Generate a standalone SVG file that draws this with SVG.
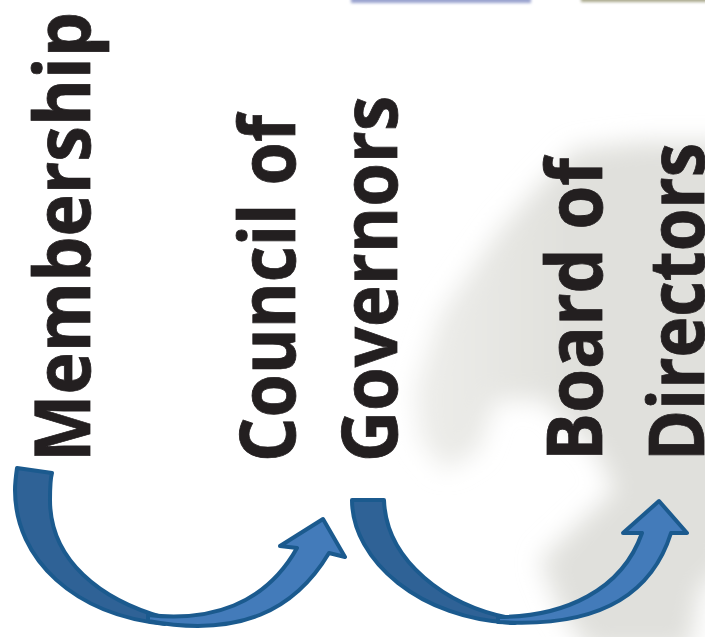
<svg xmlns="http://www.w3.org/2000/svg" width="705" height="637" viewBox="0 0 705 637">
<style>
text{font-family:"Open Sans","Noto Sans","Liberation Sans",sans-serif;font-weight:700;font-size:77px;fill:#231f20;stroke:#231f20;stroke-width:.8}
.back{fill:#2f6296;stroke:#1b5a8e;stroke-width:4;stroke-linejoin:round}
.front{fill:#437bba;stroke:#1b5a8e;stroke-width:4;stroke-linejoin:round}
</style>
<defs>
<linearGradient id="fade" gradientUnits="userSpaceOnUse" x1="410" y1="0" x2="570" y2="0"><stop offset="0" stop-color="#eeeeeb"/><stop offset="1" stop-color="#e0e0dc"/></linearGradient>
<filter id="blur" filterUnits="userSpaceOnUse" x="340" y="90" width="420" height="600"><feGaussianBlur stdDeviation="12"/></filter>
<filter id="soft" filterUnits="userSpaceOnUse" x="330" y="-20" width="400" height="40"><feGaussianBlur stdDeviation="1.5"/></filter>
</defs>
<rect width="705" height="637" fill="#fff"/>
<g id="background">
<rect x="351" y="-4" width="180" height="7" fill="#9aa3cf" filter="url(#soft)"/>
<rect x="581" y="-4" width="130" height="6" fill="#a9a88c" filter="url(#soft)"/>
<path fill="url(#fade)" filter="url(#blur)" d="M575 150L640 142H730V560L700 590L690 650H590L560 610L540 560L615 490L595 450L545 400H495L478 450L445 470L420 440L415 390L440 315L500 230L540 185Z"/>
</g>
<g id="membership"><text transform="translate(90,462) rotate(-90) scale(.93,1)" textLength="484" lengthAdjust="spacingAndGlyphs">Membership</text></g>
<g id="council-of-governors">
<text transform="translate(295,462) rotate(-90)" textLength="347" lengthAdjust="spacingAndGlyphs">Council of</text>
<text transform="translate(397,462) rotate(-90)" textLength="366" lengthAdjust="spacingAndGlyphs">Governors</text>
</g>
<g id="board-of-directors">
<text transform="translate(602,461) rotate(-90)" textLength="303" lengthAdjust="spacingAndGlyphs">Board of</text>
<text transform="translate(704,461) rotate(-90)" textLength="318" lengthAdjust="spacingAndGlyphs">Directors</text>
</g>
<g id="connectors">
<path class="back" d="M17 468L52 473C50 480 50 490 50 500C50 560 100 600 165 618L165 624C75 615 15 560 15 490C15 482 16 475 17 468Z"/>
<path class="front" d="M148 615C210 622 265 605 297 548L280 546L323 519L345 557L329 553C295 610 240 638 148 621Z"/>
<path class="back" d="M352 500H384C386 560 445 607 515 619L515 623C420 620 352 560 352 500Z"/>
<path class="front" d="M498 617C565 617 622 590 642 533L623 533L659 501L687 533L671 533C650 600 590 628 498 622Z"/>
</g>
</svg>
